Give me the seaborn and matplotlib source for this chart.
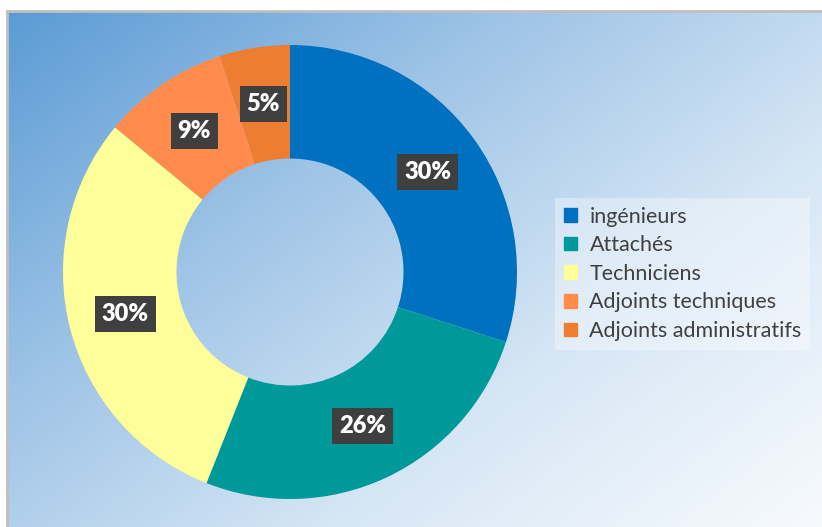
import numpy as np
import matplotlib.pyplot as plt
import matplotlib.patches as mpatches
from matplotlib.colors import LinearSegmentedColormap
import seaborn as sns

categories = ['ingénieurs', 'Attachés', 'Techniciens', 'Adjoints techniques', 'Adjoints administratifs']
shares = [30, 26, 30, 9, 5]
colors = ['#0070C0', '#009999', '#FFFF99', '#FF8C4C', '#ED7D31']

sns.set_theme(style='white')
plt.rcParams['font.family'] = ['Lato', 'DejaVu Sans']

W, H = 822, 527
fig = plt.figure(figsize=(W / 100, H / 100), dpi=100)
fig.patch.set_facecolor('white')

# fond dégradé (bleu en haut à gauche -> blanc en bas à droite)
bg = fig.add_axes([7 / W, 0, (W - 7) / W, (H - 11) / H])
yy, xx = np.mgrid[0:1:300j, 0:1:500j]
t = (xx * 0.55 + yy * 0.45)
cmap = LinearSegmentedColormap.from_list('bg', ['#5B9BD5', '#9DC3E6', '#D6E6F5', '#F7FAFD'])
bg.imshow(t, cmap=cmap, aspect='auto', extent=[0, 1, 0, 1], origin='upper')
bg.set_xticks([])
bg.set_yticks([])
for side in ['right', 'bottom']:
    bg.spines[side].set_visible(False)
for side in ['top', 'left']:
    bg.spines[side].set_color('#BFBFBF')
    bg.spines[side].set_linewidth(2)

# anneau
cx, cy, r = 290, 272, 227
ax = fig.add_axes([(cx - r) / W, (H - cy - r) / H, 2 * r / W, 2 * r / H])
ax.set_facecolor('none')
wedges, _, autotexts = ax.pie(
    shares, colors=colors, startangle=90, counterclock=False,
    wedgeprops=dict(width=0.5, edgecolor='none'),
    autopct='%1.0f%%', pctdistance=0.75,
    textprops=dict(color='white', fontsize=17, fontweight='heavy'),
)
for t_ in autotexts:
    t_.set_bbox(dict(boxstyle='square,pad=0.3', fc='#3F3F3F', ec='none'))
ax.set_xlim(-1, 1)
ax.set_ylim(-1, 1)

# légende
handles = [mpatches.Patch(color=c, label=l) for c, l in zip(colors, categories)]
leg = fig.legend(handles=handles, loc='upper left',
                 bbox_to_anchor=(555 / W, 1 - 198 / H), borderaxespad=0,
                 fontsize=15.5, labelcolor='#404040',
                 handlelength=0.6, handleheight=0.6, handletextpad=0.6,
                 labelspacing=0.4, borderpad=0.4, fancybox=False,
                 frameon=True)
leg.get_frame().set_facecolor('white')
leg.get_frame().set_alpha(0.35)
leg.get_frame().set_edgecolor('none')

fig.savefig('out.png', dpi=100)
